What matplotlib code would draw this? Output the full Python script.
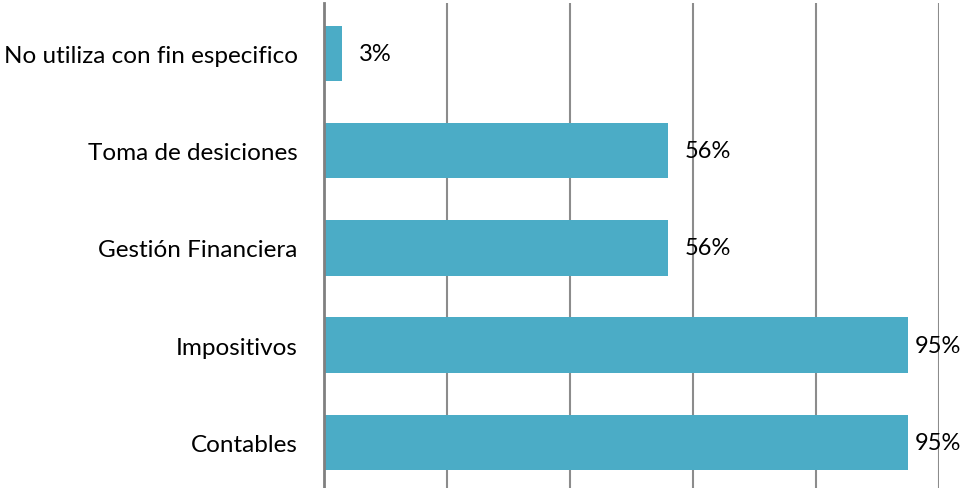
import matplotlib.pyplot as plt
import numpy as np

categories = ["Contables", "Impositivos", "Gestión Financiera",
              "Toma de desiciones", "No utiliza con fin especifico"]
values = [95, 95, 56, 56, 3]
value_labels = ["95%", "95%", "56%", "56%", "3%"]

plt.rcParams["font.family"] = ["Lato", "DejaVu Sans"]

fig = plt.figure(figsize=(9.61, 4.89), dpi=100)
ax = fig.add_axes([324 / 961, 0.0, (939 - 324) / 961, (489 - 4) / 489])

y = np.arange(len(categories))
ax.barh(y, values, height=0.57, color="#4BACC6", zorder=3)

ax.set_xlim(0, 100)
ax.set_ylim(-0.47, 4.52)
ax.set_xticks([20, 40, 60, 80, 100])
ax.set_xticklabels([])
ax.tick_params(axis="x", length=0)
ax.grid(axis="x", color="#8c8c8c", linewidth=1.5, zorder=0)

ax.set_yticks(y)
ax.set_yticklabels(categories, fontsize=17.5)
ax.tick_params(axis="y", length=0, pad=19)

for side in ("top", "right", "bottom"):
    ax.spines[side].set_visible(False)
ax.spines["left"].set_color("#808080")
ax.spines["left"].set_linewidth(2)
ax.spines["left"].set_zorder(4)

for yi, v, lab in zip(y, values, value_labels):
    off = 5 if v > 90 else 12
    ax.annotate(lab, (v, yi), xytext=(off, 0), textcoords="offset points",
                va="center", ha="left", fontsize=17, color="black",
                annotation_clip=False, zorder=5)

fig.savefig("out.png", dpi=100)
